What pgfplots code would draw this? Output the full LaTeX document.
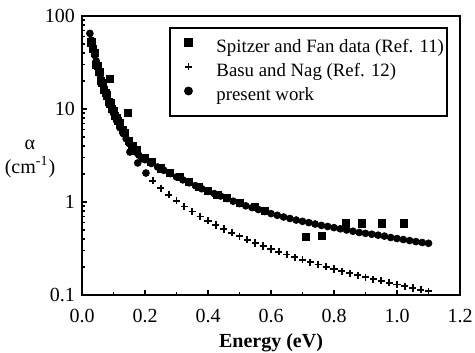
\documentclass[border=0pt]{standalone}
\usepackage{fontspec}
\setmainfont{Liberation Serif}
\usepackage{pgfplots}
\pgfplotsset{compat=1.18}
\begin{document}
\begin{tikzpicture}
\begin{axis}[
  scale only axis, width=189pt, height=139.5pt,
  xmin=0, xmax=1.2, ymode=log, ymin=0.1, ymax=100,
  xtick={0,0.2,0.4,0.6,0.8,1.0,1.2}, minor x tick num=1,
  xticklabels={0.0,0.2,0.4,0.6,0.8,1.0,1.2},
  ytick={0.1,1,10,100}, yticklabels={0.1,1,10,100},
  tick pos=left, tick align=inside,
  major tick length=2.5pt, minor tick length=1.5pt,
  axis line style={line width=1pt},
  every tick/.style={black, line width=0.8pt},
  xticklabel style={yshift=-3.5pt, inner xsep=0pt},
  xlabel={\textbf{Energy (eV)}},
  xlabel style={at={(axis description cs:0.5,0)}, anchor=center, inner sep=0pt, yshift=-24pt},
  ylabel={α\\(cm\textsuperscript{-1})},
  ylabel style={rotate=-90, at={(axis description cs:-0.1376,0.489)}, anchor=center, align=center, inner sep=0pt},
  legend style={at={(0.968,0.9606)}, anchor=north east, draw=black, line width=1pt,
    inner xsep=1.5pt, inner ysep=5pt, row sep=2.25pt, font=\fontsize{9.4}{11}\selectfont,
    nodes={inner sep=0pt, text height=7.3pt, text depth=2.5pt}},
  legend cell align=left,
  legend image code/.code={\path (0pt,0pt) (20.5pt,0pt); \draw[#1] plot coordinates {(7pt,2.5pt)};},
]
\addplot[only marks, mark=square*, mark size=1.8pt, black] coordinates {
(0.03,52) (0.035,44) (0.04,40) (0.045,30) (0.05,29) (0.055,25) (0.06,20) (0.065,19)
(0.07,16) (0.075,15) (0.08,14) (0.085,12) (0.089,21) (0.09,11.5) (0.095,10) (0.1,9.5)
(0.105,8.5) (0.11,8) (0.115,7.5) (0.12,7) (0.13,6) (0.135,5.5) (0.146,9.0) (0.15,4.5)
(0.16,4.0) (0.175,3.6) (0.2,3.0) (0.22,2.7) (0.25,2.3) (0.28,2.05) (0.31,1.85) (0.34,1.65)
(0.37,1.45) (0.4,1.32) (0.43,1.2) (0.46,1.1) (0.5,0.98) (0.55,0.88) (0.58,0.8)
(0.711,0.42) (0.762,0.43) (0.838,0.59) (0.889,0.59) (0.952,0.59) (1.022,0.59)
};
\addlegendentry{Spitzer and Fan data (Ref. 11)}
\addplot[only marks, mark=+, mark size=1.8pt, black, line width=0.9pt] coordinates {
(0.225,1.687) (0.25,1.407) (0.275,1.194) (0.3,1.028) (0.325,0.896) (0.35,0.789)
(0.375,0.700) (0.4,0.627) (0.425,0.565) (0.45,0.512) (0.475,0.466) (0.5,0.427)
(0.525,0.393) (0.55,0.362) (0.575,0.336) (0.6,0.312) (0.625,0.291) (0.65,0.272)
(0.675,0.255) (0.7,0.239) (0.725,0.225) (0.75,0.213) (0.775,0.201) (0.8,0.190)
(0.825,0.180) (0.85,0.171) (0.875,0.163) (0.9,0.155) (0.925,0.148) (0.95,0.142)
(0.975,0.135) (1.0,0.130) (1.025,0.124) (1.05,0.119) (1.075,0.114) (1.1,0.110)
};
\addlegendentry{Basu and Nag (Ref. 12)}
\addplot[only marks, mark=*, mark size=1.7pt, black] coordinates {
(0.025,65) (0.03,55) (0.035,45) (0.04,38) (0.045,33) (0.05,28) (0.055,24) (0.06,21)
(0.07,17) (0.08,13.5) (0.09,11) (0.10,9.0) (0.11,7.5) (0.12,6.3) (0.13,5.5) (0.14,4.8)
(0.15,4.25) (0.16,3.8) (0.17,3.45) (0.18,3.2) (0.19,3.0) (0.20,2.85)
(0.22,2.6) (0.24,2.38) (0.26,2.19) (0.28,2.02) (0.30,1.86) (0.32,1.73) (0.34,1.61)
(0.36,1.50) (0.38,1.39) (0.40,1.30) (0.42,1.23) (0.44,1.16) (0.46,1.09) (0.48,1.02)
(0.50,0.96) (0.52,0.91) (0.54,0.87) (0.56,0.83) (0.58,0.79) (0.60,0.75) (0.62,0.72)
(0.64,0.69) (0.66,0.665) (0.68,0.64) (0.70,0.62) (0.72,0.60) (0.74,0.58) (0.76,0.56)
(0.78,0.545) (0.80,0.53) (0.82,0.515) (0.84,0.50) (0.86,0.485) (0.88,0.47) (0.90,0.46)
(0.92,0.45) (0.94,0.44) (0.96,0.43) (0.98,0.415) (1.00,0.405) (1.02,0.395) (1.04,0.385)
(1.06,0.375) (1.08,0.367) (1.10,0.36)
(0.152,3.45) (0.177,2.63) (0.203,2.05)
};
\addlegendentry{present work}
\end{axis}
\path ([yshift=8pt]current axis.north west) ([yshift=-28.5pt]current axis.south west)
      ([xshift=-41pt]current axis.south west) ([xshift=7.5pt]current axis.south east);
\end{tikzpicture}
\end{document}
